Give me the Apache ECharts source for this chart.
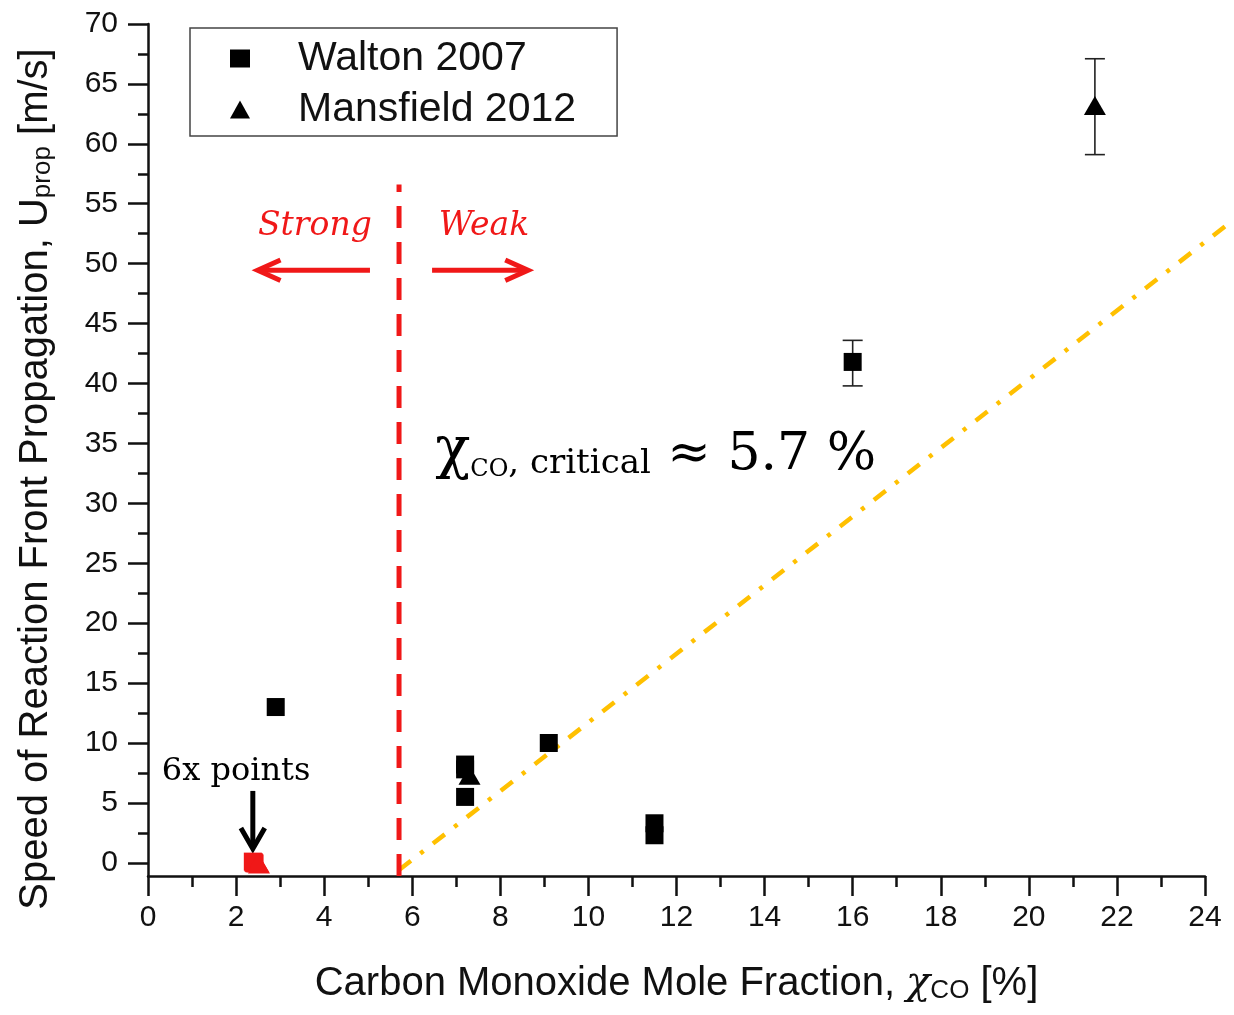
<!DOCTYPE html>
<html><head><meta charset="utf-8">
<script src="https://cdn.jsdelivr.net/npm/echarts@6/dist/echarts.min.js"></script>
<style>html,body{margin:0;padding:0;background:#fff}#c{width:1234px;height:1015px}</style>
</head><body><div id="c"></div>
<script>
// ---- data ----
const waltonPoints = [[2.9,13.0],[7.2,8.2],[7.2,7.8],[7.2,5.5],[9.1,10.0],[11.5,3.3],[11.5,2.3],[16.0,41.8]];
const waltonRedPoints = [[2.4,0.0],[2.38,0.1],[2.42,-0.05],[2.4,0.05]];
const mansfieldPoints = [[21.5,63.2],[7.3,7.3]];
const mansfieldRedPoints = [[2.52,-0.1],[2.5,0.0]];
// [x, low, high]
const errorBars = [[16.0,39.8,43.6],[21.5,59.1,67.1]];
const criticalLine = [[5.7,-1.1],[5.7,56.6]];
const trendLine = [[5.7,-0.6],[24.66,53.7]];
// [x1,y1,x2,y2] (head at x2,y2)
const redArrows = [[5.04,49.45,2.49,49.45],[6.45,49.45,8.63,49.45]];
const blackArrows = [[2.38,6.0,2.38,1.17]];
const yMajorTicks = [0,5,10,15,20,25,30,35,40,45,50,55,60,65,70];
const yMinorTicks = [2.5,7.5,12.5,17.5,22.5,27.5,32.5,37.5,42.5,47.5,52.5,57.5,62.5,67.5];
// annotation texts: [x, y, text]
const annotations = [[3.79,53.1,'Strong'],[7.63,53.1,'Weak'],[2.0,7.6,'6x points'],[6.52,34.5,'critical']];

const RED = '#f01818';
const AX = '#111';
const SANS = "'Liberation Sans', Arial, sans-serif";
const SERIF = "'DejaVu Serif', Georgia, serif";

function arrowRender(color, width, headLen, headAng) {
  return function (params, api) {
    const a = api.coord([api.value(0), api.value(1)]);
    const b = api.coord([api.value(2), api.value(3)]);
    const ang = Math.atan2(b[1]-a[1], b[0]-a[0]);
    const h1 = [b[0]-headLen*Math.cos(ang-headAng), b[1]-headLen*Math.sin(ang-headAng)];
    const h2 = [b[0]-headLen*Math.cos(ang+headAng), b[1]-headLen*Math.sin(ang+headAng)];
    const bs = [b[0]-2*Math.cos(ang), b[1]-2*Math.sin(ang)];
    const st = {stroke: color, lineWidth: width, fill: null, lineJoin: 'miter', lineCap: 'butt'};
    return {type:'group', children:[
      {type:'line', shape:{x1:a[0],y1:a[1],x2:bs[0],y2:bs[1]}, style: st},
      {type:'polyline', shape:{points:[h1,b,h2]}, style: st}
    ]};
  };
}

const textStyles = {
  'Strong': {text:'Strong', font:"italic 33px 'DejaVu Serif'", fill:RED, align:'center', verticalAlign:'middle'},
  'Weak': {text:'Weak', font:"italic 33px 'DejaVu Serif'", fill:RED, align:'center', verticalAlign:'middle'},
  '6x points': {text:'6x points', font:"32px 'DejaVu Serif'", fill:'#000', align:'center', verticalAlign:'middle'}
};

const chart = echarts.init(document.getElementById('c'));
chart.setOption({
  animation: false,
  backgroundColor: '#fff',
  grid: {left:148, right:29, top:24, bottom:139, containLabel:false},
  legend: {
    data: ['Walton 2007','Mansfield 2012'],
    orient: 'vertical', left: 190, top: 28,
    padding: [10, 41, 6, 40], itemGap: 10,
    itemWidth: 20, itemHeight: 18,
    borderColor: '#444', borderWidth: 1.5,
    textStyle: {fontSize: 41, fontFamily: SANS, color: AX, padding: [0,0,0,43]}
  },
  xAxis: {
    type:'value', min:0, max:24, interval:2,
    axisLine:{onZero:false, lineStyle:{color:AX, width:2.5}},
    axisTick:{length:20, lineStyle:{color:AX, width:2.5}},
    minorTick:{show:true, splitNumber:2, length:11, lineStyle:{color:AX, width:2.5}},
    splitLine:{show:false},
    axisLabel:{fontSize:30, fontFamily:SANS, color:AX, margin:27},
    name:'{a|Carbon Monoxide Mole Fraction, }{c|χ}{b|CO}{a| [%]}',
    nameLocation:'middle', nameGap:82,
    nameTextStyle:{rich:{
      a:{fontSize:40, fontFamily:SANS, color:AX, verticalAlign:'bottom', lineHeight:46},
      c:{fontSize:40, fontFamily:SERIF, fontStyle:'italic', color:AX, verticalAlign:'bottom', lineHeight:46},
      b:{fontSize:26, fontFamily:SANS, color:AX, verticalAlign:'bottom', lineHeight:34}
    }}
  },
  yAxis: [{
    type:'value', min:-1.1, max:70,
    axisLine:{onZero:false, lineStyle:{color:AX, width:2.5}},
    axisTick:{customValues: yMajorTicks, length:20, lineStyle:{color:AX, width:2.5}},
    splitLine:{show:false},
    axisLabel:{customValues: yMajorTicks, fontSize:30, fontFamily:SANS, color:AX, margin:30},
    name:'{a|Speed of Reaction Front Propagation, U}{b|prop}{a| [m/s]}',
    nameLocation:'middle', nameGap:92, nameRotate:90,
    nameTextStyle:{padding:[0,58,0,0], rich:{
      a:{fontSize:40, fontFamily:SANS, color:AX, verticalAlign:'bottom', lineHeight:46},
      b:{fontSize:26, fontFamily:SANS, color:AX, verticalAlign:'bottom', lineHeight:34}
    }}
  },{
    type:'value', min:-1.1, max:70, position:'left',
    axisLine:{show:false},
    axisTick:{customValues: yMinorTicks, length:10, lineStyle:{color:AX, width:2.5}},
    axisLabel:{show:false}, splitLine:{show:false}
  }],
  series: [
    {
      name:'critical', type:'line', data: criticalLine, symbol:'none', z:2,
      lineStyle:{color:RED, width:5, type:[22,14]}
    },
    {
      name:'trend', type:'custom', z:2, clip:false,
      data: [trendLine[0].concat(trendLine[1])],
      encode:{x:[0,2], y:[1,3]},
      renderItem: function (params, api) {
        const a = api.coord([api.value(0), api.value(1)]);
        const b = api.coord([api.value(2), api.value(3)]);
        return {type:'line', shape:{x1:a[0],y1:a[1],x2:b[0],y2:b[1]},
          style:{stroke:'#ffc000', lineWidth:4.5, lineDash:[15,12,4,12], fill:null}};
      }
    },
    {
      name:'errors', type:'custom', z:3,
      data: errorBars,
      encode:{x:0, y:[1,2]},
      renderItem: function (params, api) {
        const x = api.value(0);
        const lo = api.coord([x, api.value(1)]);
        const hi = api.coord([x, api.value(2)]);
        const w = 10;
        const st = {stroke:'#222', lineWidth:1.6, fill:null};
        return {type:'group', children:[
          {type:'line', shape:{x1:lo[0],y1:lo[1],x2:hi[0],y2:hi[1]}, style:st},
          {type:'line', shape:{x1:lo[0]-w,y1:lo[1],x2:lo[0]+w,y2:lo[1]}, style:st},
          {type:'line', shape:{x1:hi[0]-w,y1:hi[1],x2:hi[0]+w,y2:hi[1]}, style:st}
        ]};
      }
    },
    {
      name:'Walton 2007', type:'scatter', symbol:'rect', symbolSize:18, z:5,
      itemStyle:{color:'#000', opacity:1},
      data: waltonPoints.map(p => p).concat(waltonRedPoints.map(p => ({value:p, itemStyle:{color:RED}})))
    },
    {
      name:'Mansfield 2012', type:'scatter', symbol:'triangle', symbolSize:[22,19], z:5,
      itemStyle:{color:'#000', opacity:1},
      data: mansfieldPoints.map(p => p).concat(mansfieldRedPoints.map(p => ({value:p, itemStyle:{color:RED}})))
    },
    {
      name:'redArrows', type:'custom', z:4, data: redArrows,
      encode:{x:[0,2], y:[1,3]},
      renderItem: arrowRender(RED, 5, 25, 0.42)
    },
    {
      name:'blackArrows', type:'custom', z:4, data: blackArrows,
      encode:{x:[0,2], y:[1,3]},
      renderItem: arrowRender('#000', 5, 24, 0.52)
    },
    {
      name:'annotations', type:'custom', z:6, clip:false,
      data: annotations,
      encode:{x:0, y:1},
      renderItem: function (params, api) {
        const p = api.coord([api.value(0), api.value(1)]);
        const key = annotations[params.dataIndex][2];
        if (key === 'critical') {
          return {type:'text', x:p[0], y:p[1], style:{
            text:'{chi|χ}{co|CO}{sub|, critical}{big| ≈ 5.7 %}',
            align:'left', verticalAlign:'middle',
            rich:{
              chi:{fontSize:58, fontFamily:SERIF, fill:'#000', verticalAlign:'bottom', lineHeight:64},
              co:{fontSize:24, fontFamily:SERIF, fill:'#000', verticalAlign:'bottom', lineHeight:56},
              sub:{fontSize:34, fontFamily:SERIF, fill:'#000', verticalAlign:'bottom', lineHeight:58},
              big:{fontSize:52, fontFamily:SERIF, fill:'#000', verticalAlign:'bottom', lineHeight:64}
            }}};
        }
        return {type:'text', x:p[0], y:p[1], style: textStyles[key]};
      }
    }
  ]
});
</script></body></html>
